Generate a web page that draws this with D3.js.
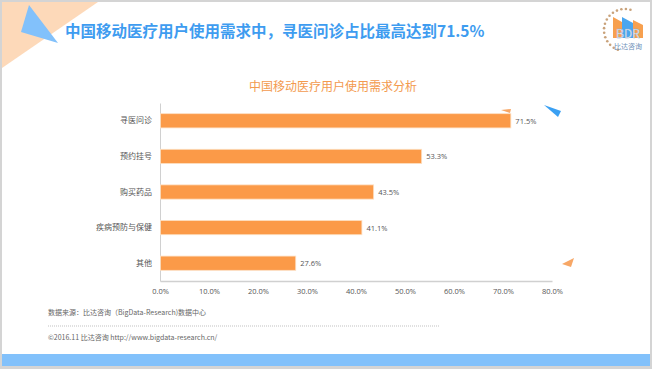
<!DOCTYPE html>
<html>
<head>
<meta charset="utf-8">
<title>中国移动医疗用户使用需求分析</title>
<script src="https://cdn.jsdelivr.net/npm/d3@7"></script>
<style>
  body { margin: 0; background: #fff; }
  svg text { font-family: "Noto Sans CJK SC", "Open Sans", sans-serif; }
</style>
</head>
<body>
<svg id="chart" width="652" height="369"></svg>
<script>
// data
var categories = ["寻医问诊", "预约挂号", "购买药品", "疾病预防与保健", "其他"];
var values = [71.5, 53.3, 43.5, 41.1, 27.6];
var xTicks = [0, 10, 20, 30, 40, 50, 60, 70, 80];

var title = "中国移动医疗用户使用需求中，寻医问诊占比最高达到71.5%";
var subtitle = "中国移动医疗用户使用需求分析";
var source = "数据来源：比达咨询（BigData-Research)数据中心";
var copyright = "©2016.11  比达咨询   http://www.bigdata-research.cn/";

var svg = d3.select("#chart");

// page frame
svg.append("rect").attr("width", 652).attr("height", 369).attr("fill", "#d4d4d4");
svg.append("rect").attr("x", 2).attr("y", 2).attr("width", 648).attr("height", 364).attr("fill", "#fff");

// decorations top left
svg.append("path").attr("d", "M2,2L98,2L2,68Z").attr("fill", "#fdd9b9");
svg.append("path").attr("d", "M29,5L21,32L58,43Z").attr("fill", "#82c1fb");

// bottom blue band
svg.append("rect").attr("x", 2).attr("y", 354).attr("width", 648).attr("height", 12).attr("fill", "#82c1fb");

svg.append("text")
  .attr("x", 65).attr("y", 37)
  .attr("font-size", "15.5px").attr("font-weight", "bold")
  .attr("fill", "#3e9cf0")
  .text(title);

// logo (dotted arc on the left, three little houses, BDR)
var logo = svg.append("g");
d3.range(0, 15).forEach(function(i) {
  var a = (75 + i * 12.5) * Math.PI / 180;
  logo.append("circle")
    .attr("cx", 625 + 21 * Math.cos(a))
    .attr("cy", 30 - 21 * Math.sin(a))
    .attr("r", 1.3).attr("fill", "#c9a27a");
});
logo.append("path").attr("d", "M613,38L613,17L622,22L622,38Z").attr("fill", "#f7a04f");
logo.append("path").attr("d", "M622,38L622,17L633,23L633,38Z").attr("fill", "#4aa6ee");
logo.append("path").attr("d", "M633,38L633,20L643,25L643,38Z").attr("fill", "#f7a04f");
logo.append("text").attr("x", 628).attr("y", 38).attr("text-anchor", "middle")
  .attr("font-size", "12px").attr("font-family", "DejaVu Sans, sans-serif")
  .attr("fill", "#fff").attr("stroke", "#8aa8c8").attr("stroke-width", 0.4)
  .text("BDR");
logo.append("text").attr("x", 628).attr("y", 48.5).attr("text-anchor", "middle")
  .attr("font-size", "7px").attr("fill", "#6d8fb8").text("比达咨询");

svg.append("text")
  .attr("x", 333).attr("y", 91)
  .attr("text-anchor", "middle")
  .attr("font-size", "12px").attr("fill", "#f39a4e")
  .text(subtitle);

// scales
var x = d3.scaleLinear().domain([0, 80]).range([160, 552]);
var y = d3.scaleBand().domain(categories).range([103, 281]).paddingInner(0.6).paddingOuter(0.3);

// x axis
var xAxis = svg.append("g")
  .attr("transform", "translate(0,281)")
  .call(d3.axisBottom(x).tickValues(xTicks).tickSize(0).tickPadding(8)
    .tickFormat(function(d) { return d.toFixed(1) + "%"; }));
xAxis.select(".domain").attr("stroke", "#d0d0d0").attr("stroke-width", 1.5);
xAxis.selectAll("text").attr("font-size", "7.5px").attr("fill", "#555")
  .style("font-family", "'Open Sans', sans-serif");

// y axis
var yAxis = svg.append("g")
  .attr("transform", "translate(160,0)")
  .call(d3.axisLeft(y).tickSize(0).tickPadding(8));
yAxis.select(".domain").attr("stroke", "#d0d0d0").attr("stroke-width", 1);
yAxis.selectAll("text").attr("font-size", "8px").attr("fill", "#555");

// bars
svg.append("g").selectAll("rect")
  .data(categories)
  .enter()
  .append("rect")
  .attr("x", x(0) + 0.5)
  .attr("y", function(d) { return y(d); })
  .attr("width", function(d, i) { return x(values[i]) - x(0); })
  .attr("height", y.bandwidth())
  .attr("fill", "#fb9a48")
  .attr("stroke", "#fde0c4").attr("stroke-width", 0.8);

svg.append("g").selectAll("text")
  .data(categories)
  .enter()
  .append("text")
  .attr("x", function(d, i) { return x(values[i]) + 5; })
  .attr("y", function(d) { return y(d) + y.bandwidth() / 2 + 3; })
  .attr("font-size", "7.5px").attr("fill", "#555")
  .style("font-family", "'Open Sans', sans-serif")
  .text(function(d, i) { return values[i].toFixed(1) + "%"; });

// little triangles around the plot
svg.append("path").attr("d", "M501,110L511,109L510,113Z").attr("fill", "#f7a766");
svg.append("path").attr("d", "M544,105L561,111L558,117Z").attr("fill", "#3aa0f3");
svg.append("path").attr("d", "M574,258L562,264L571,267Z").attr("fill", "#f7a766");

// footer
svg.append("text").attr("x", 48).attr("y", 315)
  .attr("font-size", "7px").attr("fill", "#666").text(source);
svg.append("line").attr("x1", 48).attr("x2", 440).attr("y1", 326).attr("y2", 326)
  .attr("stroke", "#999").attr("stroke-width", 0.6).attr("stroke-dasharray", "1,1");
svg.append("text").attr("x", 48).attr("y", 340)
  .attr("font-size", "7px").attr("fill", "#666").text(copyright);
</script>
</body>
</html>
